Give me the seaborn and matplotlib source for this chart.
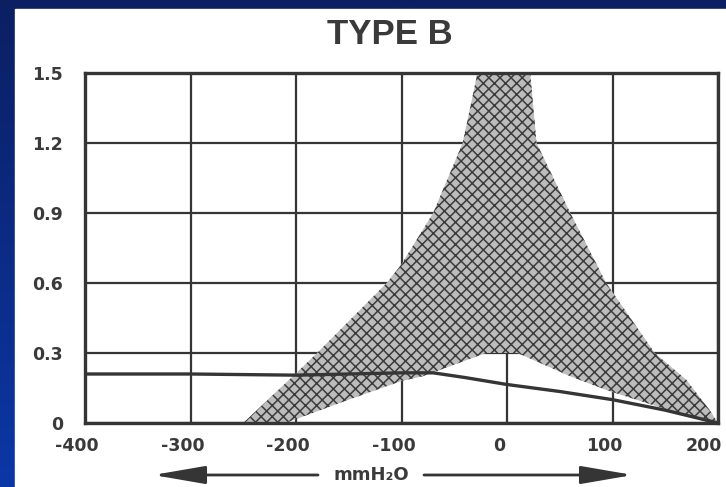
import numpy as np
import pandas as pd
import seaborn as sns
import matplotlib.pyplot as plt
from matplotlib.patches import Rectangle
from matplotlib.colors import LinearSegmentedColormap
from matplotlib.transforms import ScaledTranslation

# pressure curve (mmH2O vs value)
curve_x = [-400, -300, -200, -150, -100, -70, -40, 0, 50, 100, 150, 200]
curve_y = [0.21, 0.21, 0.205, 0.21, 0.215, 0.215, 0.195, 0.165, 0.135, 0.10, 0.055, 0.0]

# shaded band: outer edge (left side going up, right side going down)
outer_left_x = [-250, -203, -180, -114, -100, -70, -42, -28]
outer_left_y = [0.0, 0.2, 0.3, 0.6, 0.68, 0.9, 1.2, 1.5]
outer_right_x = [22, 28, 60, 94, 140, 170, 192, 200]
outer_right_y = [1.5, 1.2, 0.9, 0.6, 0.3, 0.185, 0.056, 0.0]
# inner (lower) edge of the band, right to left
inner_x = [200, 150, 95, 60, 10, -20, -80, -100, -150, -210]
inner_y = [0.0, 0.06, 0.14, 0.2, 0.3, 0.3, 0.2, 0.18, 0.1, 0.0]

x_ticks = [-400, -300, -200, -100, 0, 100, 200]
y_ticks = [0, 0.3, 0.6, 0.9, 1.2, 1.5]
y_tick_labels = ['0', '0.3', '0.6', '0.9', '1.2', '1.5']

sns.set_style('white')
plt.rcParams['font.family'] = ['DejaVu Sans']
plt.rcParams['axes.unicode_minus'] = False
plt.rcParams['hatch.linewidth'] = 1.1
ink = '#353535'

fig = plt.figure(figsize=(7.26, 4.87), dpi=100)

# blue slide frame + white panel
bg = fig.add_axes([0, 0, 1, 1], zorder=-10)
grad = np.linspace(0, 1, 256).reshape(-1, 1)
cmap = LinearSegmentedColormap.from_list('slide', ['#0b1f62', '#0b37a6'])
bg.imshow(grad, aspect='auto', cmap=cmap, extent=[0, 1, 0, 1], origin='upper')
bg.add_patch(Rectangle((15 / 726, 0), 1, (487 - 9) / 487, color='white', zorder=2))
bg.set_axis_off()

ax = fig.add_axes([85 / 726, 1 - 423 / 487, 633 / 726, 350 / 487])
ax.set_facecolor('white')

band_x = outer_left_x + outer_right_x + inner_x
band_y = outer_left_y + outer_right_y + inner_y
ax.fill(band_x, band_y, facecolor='#bcbcbc', edgecolor='#3c3c3c', hatch='xxx',
        linewidth=0, zorder=1)

df = pd.DataFrame({'p': curve_x, 'v': curve_y})
sns.lineplot(data=df, x='p', y='v', ax=ax, color=ink, linewidth=2.4, zorder=3)

ax.set_xlim(-400, 200)
ax.set_ylim(0, 1.5)
ax.set_xticks(x_ticks)
ax.set_yticks(y_ticks)
ax.set_yticklabels(y_tick_labels)
ax.grid(True, color=ink, linewidth=1.6)
ax.tick_params(length=0, labelsize=12.5, labelcolor='#3a3a3a')
ax.tick_params(axis='x', pad=10)
ax.tick_params(axis='y', pad=16)
for lab in ax.get_xticklabels() + ax.get_yticklabels():
    lab.set_fontweight('bold')
xlabs = ax.get_xticklabels()
for i, lab in enumerate(xlabs):
    shift = -0.14 if i == len(xlabs) - 1 else -0.08
    lab.set_transform(lab.get_transform() + ScaledTranslation(shift, 0, fig.dpi_scale_trans))
for s in ax.spines.values():
    s.set_visible(True)
    s.set_color(ink)
    s.set_linewidth(2.4)

ax.set_xlabel('mmH₂O', fontsize=13, fontweight='bold', color='#3a3a3a', va='center')
ax.xaxis.set_label_coords((371 - 85) / 633, (423 - 475) / 350)
ax.set_ylabel('')

# direction arrows under the axis
arrow = dict(arrowstyle='-|>,head_length=3.2,head_width=0.55', color=ink, lw=2,
             mutation_scale=10, shrinkA=0, shrinkB=0)
ax.annotate('', xy=(153, 12), xytext=(318, 12), xycoords='figure pixels', arrowprops=arrow)
ax.annotate('', xy=(633, 12), xytext=(424, 12), xycoords='figure pixels', arrowprops=arrow)

fig.text(390 / 726, 1 - 35 / 487, 'TYPE B', ha='center', va='center', fontsize=25,
         fontweight='bold', color='#3a3a3a', family=['Liberation Sans', 'DejaVu Sans'])

fig.savefig('out.png', dpi=100)
